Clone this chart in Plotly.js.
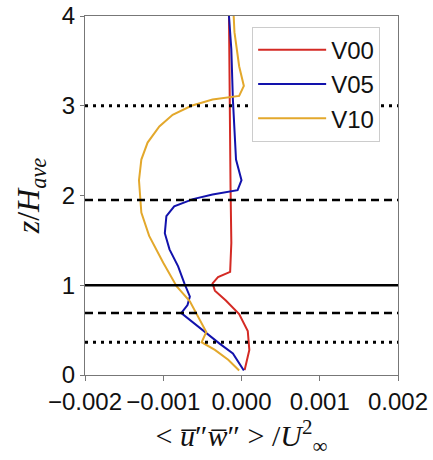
<!DOCTYPE html>
<html>
<head>
<meta charset="utf-8">
<script src="https://cdn.plot.ly/plotly-3.0.1.min.js"></script>
<style>html,body{margin:0;padding:0;background:#fff;}#chart{width:433px;height:460px;}</style>
</head>
<body>
<div id="chart"></div>
<script>
// Series: x = <u''w''>/U^2, z = z/H_ave
const seriesNames = ["V00", "V05", "V10"];

const v00_x = [0.00004, 0.00010, 0.00008, -0.00003, -0.00020, -0.00034, -0.00037, -0.00030, -0.000145, -0.00013, -0.00014, -0.00015, -0.00016];
const v00_z = [0.056, 0.28, 0.49, 0.68, 0.83, 0.94, 1.02, 1.09, 1.15, 1.47, 2.09, 3.00, 4.00];

const v05_x = [0.00003, -0.00011, -0.00028, -0.00045, -0.00060, -0.00077, -0.00069, -0.00066, -0.00073, -0.00081, -0.00092, -0.00098, -0.00096, -0.00086, -0.00062, -0.00037, -0.00005, 0.00000, -0.00007, -0.00011, -0.00013, -0.00016];
const v05_z = [0.05, 0.24, 0.35, 0.47, 0.58, 0.69, 0.78, 0.875, 1.02, 1.21, 1.40, 1.58, 1.77, 1.88, 1.96, 2.01, 2.06, 2.17, 2.40, 3.07, 3.63, 4.00];

const v10_x = [-0.00003, -0.00017, -0.00034, -0.00051, -0.00045, -0.00056, -0.00066, -0.00083, -0.00100, -0.00118, -0.00128, -0.00131, -0.00128, -0.00120, -0.00105, -0.00088, -0.00064, -0.00037, -0.00003, 0.00003, -0.00003, -0.00009, -0.00010];
const v10_z = [0.05, 0.17, 0.28, 0.365, 0.48, 0.65, 0.82, 0.99, 1.25, 1.55, 1.81, 2.17, 2.40, 2.59, 2.77, 2.90, 3.00, 3.07, 3.11, 3.22, 3.44, 3.82, 4.00];

// Horizontal reference levels (z/H_ave)
const refLevels = [3.0, 1.95, 1.0, 0.69, 0.365];

const xTickVals = [-0.002, -0.001, 0.0, 0.001, 0.002];
const yTickVals = [0, 1, 2, 3, 4];

const colors = ["#d42a24", "#1212ac", "#e3a82c"];
const xs = [v00_x, v05_x, v10_x];
const zs = [v00_z, v05_z, v10_z];

const traces = seriesNames.map((n, i) => ({
  type: "scatter", mode: "lines", name: n,
  x: xs[i], y: zs[i],
  line: {color: colors[i], width: 2}
}));

const refDash = ["3px,5px", "8px,5px", "solid", "8px,5px", "3px,5px"];
const refWidth = [3, 2.5, 2.5, 2.5, 3];
const shapes = refLevels.map((lv, i) => ({
  type: "line", xref: "paper", yref: "y", x0: 0, x1: 1, y0: lv, y1: lv,
  line: {color: "#000", width: refWidth[i], dash: refDash[i]}, layer: "above"
}));

const sans = "Liberation Sans, Arial, sans-serif";
const serif = "Liberation Serif, DejaVu Serif, serif";

const layout = {
  width: 433, height: 460,
  margin: {l: 85, r: 35, t: 16, b: 85},
  paper_bgcolor: "#fff", plot_bgcolor: "#fff",
  showlegend: true,
  font: {family: sans, color: "#111", size: 24},
  xaxis: {
    range: [-0.002, 0.002], tickvals: xTickVals, tickformat: ".3f",
    showgrid: false, zeroline: false, showline: true, mirror: true,
    linecolor: "#777", linewidth: 1, ticks: "outside", ticklen: 5, tickcolor: "#777",
    tickfont: {size: 24, family: sans, color: "#111"},
    title: {text: "&lt; <i>u\u0305</i>\u2033<i>w\u0305</i>\u2033 &gt; /<i>U</i><sup>2</sup><sub>\u221E</sub>",
            font: {family: serif, size: 30, color: "#111"}, standoff: 2}
  },
  yaxis: {
    range: [0, 4], tickvals: yTickVals,
    showgrid: false, zeroline: false, showline: true, mirror: true,
    linecolor: "#777", linewidth: 1, ticks: "outside", ticklen: 4, tickcolor: "#777",
    tickfont: {size: 24, family: sans, color: "#111"},
    title: {text: "<i>z</i>/<i>H</i><sub><i>ave</i></sub>",
            font: {family: serif, size: 32, color: "#111"}, standoff: 12}
  },
  legend: {
    x: 0.534, y: 0.97, xanchor: "left", yanchor: "top",
    bgcolor: "#fff", bordercolor: "#ccc", borderwidth: 1,
    font: {size: 24, family: sans, color: "#111"},
    tracegroupgap: 0, itemwidth: 68
  },
  shapes: shapes
};

Plotly.newPlot("chart", traces, layout, {displayModeBar: false, staticPlot: true});
</script>
</body>
</html>
